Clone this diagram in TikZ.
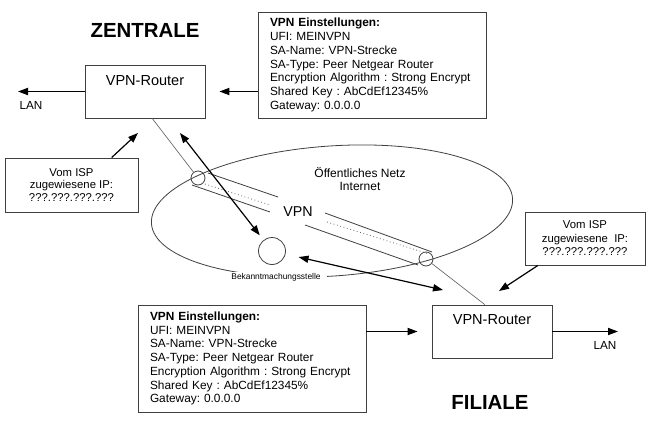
\documentclass[tikz,border=0pt]{standalone}
\usepackage{fontspec}
\setmainfont{Liberation Sans}
\usetikzlibrary{arrows.meta,calc}
\frenchspacing
\begin{document}
\begin{tikzpicture}[x=0.75pt,y=0.75pt,
  box/.style={draw=black!75, line width=0.7pt, inner sep=0pt},
  routerbox/.style={box, minimum width=90pt, minimum height=39.75pt},
  setbox/.style={box, align=left, text width=153pt, inner xsep=9pt, minimum height=79.5pt, font=\fontsize{8.9pt}{10.3pt}\selectfont},
  ispbox/.style={box, align=center, font=\fontsize{8.5pt}{9.6pt}\selectfont},
  tip/.tip={Triangle[length=7.5pt,width=5.4pt]},
  arr/.style={draw=black, line width=0.9pt, -tip},
  darr/.style={draw=black, line width=0.9pt, tip-tip},
  grayline/.style={draw=black!60, line width=0.5pt},
  tunnel/.style={draw=black!75, line width=0.6pt},
  dotline/.style={draw=black!60, line width=0.6pt, dotted},
  title/.style={font=\bfseries\fontsize{15.3pt}{18pt}\selectfont},
  rtext/.style={font=\fontsize{10.9pt}{13pt}\selectfont},
  lan/.style={font=\fontsize{8.8pt}{10pt}\selectfont}
]
\useasboundingbox (0,0) rectangle (650,-422);
\fill[white] (0,0) rectangle (650,-422);

% titles
\node[title] (tz) at (145,-30) {ZENTRALE};
\node[title] (tf) at (490,-402) {FILIALE};

% ellipse (public network)
\draw[black!75, line width=0.6pt, rotate around={4:(332,-211)}] (332,-211) ellipse [x radius=181, y radius=65];
\node[font=\fontsize{9pt}{9.4pt}\selectfont, align=center] (net) at (360,-179) {Öffentliches Netz\\Internet};

% routers
\node[routerbox] (r1) at (145,-91.5) {};
\node[rtext] (r1t) at (145,-81) {VPN-Router};
\node[routerbox] (r2) at (492,-331.5) {};
\node[rtext] (r2t) at (492,-320) {VPN-Router};

% settings boxes
\node[setbox] (s1) at (372,-65) {\textbf{VPN Einstellungen:}\\UFI: MEINVPN\\SA-Name: VPN-Strecke\\SA-Type: Peer Netgear Router\\Encryption Algorithm : Strong Encrypt\\Shared Key : AbCdEf12345\%\\Gateway: 0.0.0.0};
\node[setbox, minimum height=80.25pt] (s2) at (252,-358.5) {\textbf{VPN Einstellungen:}\\UFI: MEINVPN\\SA-Name: VPN-Strecke\\SA-Type: Peer Netgear Router\\Encryption Algorithm : Strong Encrypt\\Shared Key : AbCdEf12345\%\\Gateway: 0.0.0.0};

% ISP boxes
\node[ispbox, minimum width=99.75pt, minimum height=40.5pt] (isp1) at (71.5,-185) {Vom ISP\\zugewiesene IP:\\???.???.???.???};
\node[ispbox, minimum width=90pt, minimum height=39.75pt, font=\fontsize{8.5pt}{10.1pt}\selectfont] (isp2) at (585,-238.5) {Vom ISP\\zugewiesene\ \ IP:\\???.???.???.???};

% tunnel
\node[circle, draw=black!75, line width=0.6pt, minimum size=10.5pt, inner sep=0pt] (c1) at (198,-178) {};
\node[circle, draw=black!75, line width=0.6pt, minimum size=10.5pt, inner sep=0pt] (c2) at (426,-259) {};
\draw[tunnel] (208,-173) -- (278,-197);
\draw[tunnel] (192,-185) -- (270,-212);
\draw[tunnel] (325,-213) -- (432,-252);
\draw[tunnel] (305,-225) -- (418,-265);
\draw[dotline] (205,-184) -- (270,-205);
\draw[dotline] (327,-222) -- (429,-254);
\node[font=\fontsize{10.7pt}{12pt}\selectfont] (vpn) at (298,-212) {VPN};

% lines router -> tunnel
\draw[grayline] ($(r1.south west)!0.56!(r1.south east)$) -- (c1);
\draw[grayline] (c2) -- ($(r2.north west)!0.44!(r2.north east)$);

% Bekanntmachungsstelle
\node[circle, draw=black!75, line width=0.6pt, minimum size=20.25pt, inner sep=0pt] (bk) at (272,-251) {};
\node[fill=white, inner xsep=5pt, inner ysep=1pt, font=\fontsize{6.3pt}{7pt}\selectfont] (bkl) at (276,-277) {Bekanntmachungsstelle};

% arrows
\coordinate (a1) at (180,-133);
\draw[darr, shorten >=4.5pt] (a1) -- (bk);
\coordinate (a2) at (443,-290);
\draw[darr, shorten <=10pt] (bk) -- (a2);

\coordinate (a3) at (138,-133);
\draw[arr] ($(isp1.north west)!0.8!(isp1.north east)$) -- (a3);
\coordinate (a4) at (499,-291);
\draw[arr] ($(isp2.south west)!0.11!(isp2.south east)$) -- (a4);

\draw[arr] (s1.west |- r1.east) -- ($(r1.east)+(14,0)$);
\draw[arr] (s2.east |- r2.west) -- ($(r2.west)+(-14,0)$);

\coordinate (l1) at (18,-91.5);
\draw[arr] (r1.west) -- (l1);
\node[lan] (lan1) at (31,-105) {LAN};
\coordinate (l2) at (618,-331.5);
\draw[arr] (r2.east) -- (l2);
\node[lan] (lan2) at (605,-345) {LAN};
\end{tikzpicture}
\end{document}
